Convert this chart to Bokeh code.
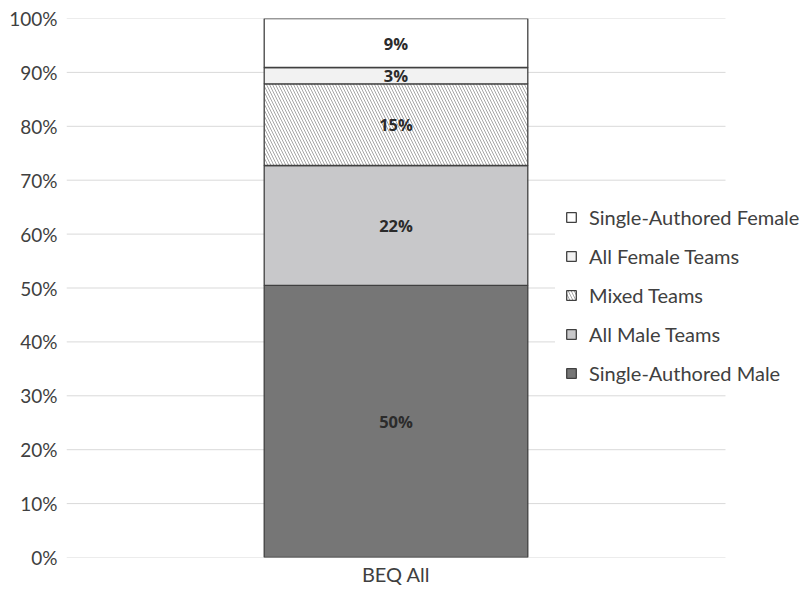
from bokeh.plotting import figure
from bokeh.models import (ColumnDataSource, Legend, LegendItem, NumeralTickFormatter,
                          FixedTicker, LabelSet, Range1d)
from bokeh.core.properties import value
from bokeh.embed import file_html
from bokeh.resources import INLINE

# Authorship composition for the single group
groups = ["BEQ All"]
series = ["Single-Authored Male", "All Male Teams", "Mixed Teams",
          "All Female Teams", "Single-Authored Female"]
shares = [50, 22, 15, 3, 9]          # percent of articles (labelled values)
y_ticks = [i / 10 for i in range(11)]

fill_colors = ["#767676", "#c8c8ca", "#ffffff", "#f2f2f2", "#ffffff"]
hatches = [None, None, "\\", None, None]

FONT = "Lato"
BOLD_FONT = "Open Sans"
TEXT = "#404040"

# 100% stacked: each segment is its share of the total
total = float(sum(shares))
bottoms, tops = [], []
acc = 0.0
for s in shares:
    bottoms.append(acc / total)
    acc += s
    tops.append(acc / total)

# Category slots sit at 0.5, 1.5, ... ; the frame runs a little past the
# last slot so the legend has room on the right.
xs = [i + 0.5 for i in range(len(groups))]
x_end = len(groups) * 734 / 659

p = figure(x_range=Range1d(0, x_end), y_range=Range1d(0, 1), width=800, height=589,
           output_backend="svg", toolbar_location=None,
           min_border_left=66, min_border_right=0,
           min_border_top=18, min_border_bottom=32)

# Horizontal gridlines across the category area only
p.segment(x0=[0] * len(y_ticks), x1=[len(groups)] * len(y_ticks), y0=y_ticks, y1=y_ticks,
          line_color="#d9d9d9", line_width=1)

renderers = []
for name, b, t, c, h in zip(series, bottoms, tops, fill_colors, hatches):
    src = ColumnDataSource(dict(x=xs, bottom=[b], top=[t]))
    kw = {}
    if h:
        kw = dict(hatch_pattern=h, hatch_color="#a6a6a6", hatch_scale=6, hatch_weight=1)
    r = p.vbar(x="x", bottom="bottom", top="top", width=0.4, source=src,
               fill_color=c, line_color="#404040", line_width=1.3, **kw)
    renderers.append((name, r))

# Value labels in the middle of each segment
lab_src = ColumnDataSource(dict(
    x=xs * len(shares),
    y=[(b + t) / 2 for b, t in zip(bottoms, tops)],
    text=[f"{s}%" for s in shares],
))
labels = LabelSet(x="x", y="y", text="text", source=lab_src,
                  text_align="center", text_baseline="middle",
                  text_font=value(BOLD_FONT), text_font_size=value("16.5px"),
                  text_font_style=value("bold"), text_color=value("#2b2b2b"))
p.add_layout(labels)

legend = Legend(items=[LegendItem(label=n, renderers=[r]) for n, r in reversed(renderers)],
                location=(489, 162), orientation="vertical",
                label_text_font=FONT, label_text_font_size="20px", label_text_color=TEXT,
                glyph_width=12, glyph_height=12, label_height=24, spacing=15,
                label_standoff=12, padding=10, margin=0,
                border_line_alpha=0, background_fill_color="white", background_fill_alpha=1)
p.add_layout(legend)

p.yaxis.ticker = FixedTicker(ticks=y_ticks)
p.yaxis.formatter = NumeralTickFormatter(format="0%")
p.xaxis.ticker = FixedTicker(ticks=xs)
p.xaxis.major_label_overrides = {x: g for x, g in zip(xs, groups)}
for ax in (p.xaxis, p.yaxis):
    ax.axis_line_color = None
    ax.major_tick_line_color = None
    ax.minor_tick_line_color = None
    ax.major_tick_out = 0
    ax.major_tick_in = 0
    ax.minor_tick_out = 0
    ax.major_label_text_font = FONT
    ax.major_label_text_color = TEXT
p.yaxis.major_label_text_font_size = "19px"
p.xaxis.major_label_text_font_size = "20px"
p.yaxis.major_label_standoff = 9
p.xaxis.major_label_standoff = 4

p.xgrid.grid_line_color = None
p.ygrid.grid_line_color = None
p.outline_line_color = None

open("out.html", "w").write(file_html(p, INLINE))
